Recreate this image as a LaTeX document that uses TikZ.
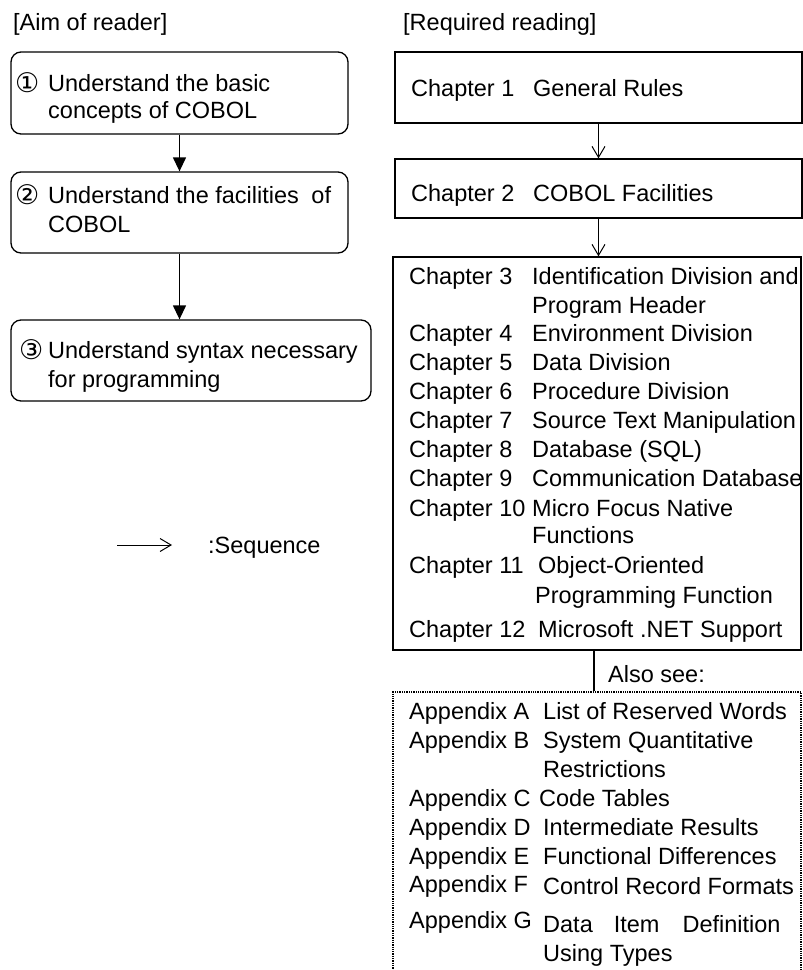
\documentclass[tikz,border=0pt]{standalone}
\usepackage{fontspec}
\setmainfont{Liberation Sans}
\newfontfamily\circfont{DejaVu Sans}
\usetikzlibrary{arrows.meta}
\begin{document}
\begin{tikzpicture}[x=1pt,y=-1pt,
  txt/.style={anchor=base west,inner sep=0pt,font=\fontsize{23.5}{27}\selectfont},
  circ/.style={anchor=base west,inner sep=0pt,font=\circfont\fontsize{27}{30}\selectfont},
  aimbox/.style={draw,rounded corners=10pt,line width=1.3pt,inner sep=0pt},
  chapbox/.style={draw,line width=1.3pt,inner sep=0pt},
  seealso/.style={draw,densely dotted,line width=1.3pt,inner sep=0pt},
  aimarrow/.style={line width=1.3pt,-{Triangle[length=14pt,width=13pt]}},
  readarrow/.style={line width=1pt,-{Straight Barb[length=11pt,width=13pt]}},
  plainline/.style={line width=1.3pt},
]
\useasboundingbox (0,0) rectangle (803,970);

% titles
\node[txt] (aimtitle) at (13,30) {[Aim of reader]};
\node[txt] (reqtitle) at (403,30) {[Required reading]};

% left boxes
\node[aimbox, minimum width=337pt, minimum height=82pt] (aim1) at (179.5,93) {};
\node[aimbox, minimum width=337pt, minimum height=81pt] (aim2) at (179.5,212.5) {};
\node[aimbox, minimum width=360pt, minimum height=81pt] (aim3) at (191,360.5) {};

\node[circ] (c1) at (15,92) {①};
\node[txt] (t1a) at (48,91) {Understand the basic};
\node[txt] (t1b) at (48,118) {concepts of COBOL};
\node[circ] (c2) at (15,204) {②};
\node[txt] (t2a) at (48,203) {Understand the facilities\hspace{6pt} of};
\node[txt] (t2b) at (48,232) {COBOL};
\node[circ] (c3) at (19,359) {③};
\node[txt] (t3a) at (48,358) {Understand syntax necessary};
\node[txt] (t3b) at (48,387) {for programming};

\draw[aimarrow] (aim1.south) -- (aim2.north);
\draw[aimarrow] (aim2.south) -- (aim2.south |- aim3.north);

% legend
\coordinate (seqA) at (117,545);
\coordinate (seqB) at (172,545);
\draw[readarrow] (seqA) -- (seqB);
\node[txt] (seqtext) at (208,553) {:Sequence};

% right boxes
\node[chapbox, minimum width=407pt, minimum height=71pt] (ch1) at (598.5,87.5) {};
\node[chapbox, minimum width=407pt, minimum height=59pt] (ch2) at (598.5,188.5) {};
\node[chapbox, minimum width=408pt, minimum height=393pt] (big) at (597,453.5) {};
\node[seealso, minimum width=408pt, minimum height=298pt] (app) at (597,841) {};

\draw[readarrow] (ch1.south) -- (ch2.north);
\draw[readarrow] (ch2.south) -- (ch2.south |- big.north);
\draw[plainline] ([xshift=-3pt]big.south) -- ([xshift=-3pt]app.north);
\node[txt] (also) at (608,682) {Also see:};

\node[txt] (l1) at (411,96) {Chapter 1};   \node[txt] (r1) at (533,96) {General Rules};
\node[txt] (l2) at (411,201) {Chapter 2};  \node[txt] (r2) at (533,201) {COBOL Facilities};
\node[txt] (l3) at (409,284) {Chapter 3};  \node[txt] (r3) at (532,284) {Identification Division and};
                                            \node[txt] (r3b) at (532,313) {Program Header};
\node[txt] (l4) at (409,341) {Chapter 4};  \node[txt] (r4) at (532,341) {Environment Division};
\node[txt] (l5) at (409,370) {Chapter 5};  \node[txt] (r5) at (532,370) {Data Division};
\node[txt] (l6) at (409,399) {Chapter 6};  \node[txt] (r6) at (532,399) {Procedure Division};
\node[txt] (l7) at (409,428) {Chapter 7};  \node[txt] (r7) at (532,428) {Source Text Manipulation};
\node[txt] (l8) at (409,457) {Chapter 8};  \node[txt] (r8) at (532,457) {Database (SQL)};
\node[txt] (l9) at (409,486) {Chapter 9};  \node[txt] (r9) at (532,486) {Communication Database};
\node[txt] (l10) at (409,516) {Chapter 10}; \node[txt] (r10) at (532,516) {Micro Focus Native};
                                            \node[txt] (r10b) at (532,543) {Functions};
\node[txt] (l11) at (409,573) {Chapter 11}; \node[txt] (r11) at (538,573) {Object-Oriented};
                                            \node[txt] (r11b) at (535,603) {Programming Function};
\node[txt] (l12) at (409,637) {Chapter 12}; \node[txt] (r12) at (538,637) {Microsoft .NET Support};

\node[txt] (aA) at (409,719) {Appendix A}; \node[txt] (bA) at (543,719) {List of Reserved Words};
\node[txt] (aB) at (409,748) {Appendix B}; \node[txt] (bB) at (543,748) {System Quantitative};
                                            \node[txt] (bB2) at (543,777) {Restrictions};
\node[txt] (aC) at (409,806) {Appendix C}; \node[txt] (bC) at (539,806) {Code Tables};
\node[txt] (aD) at (409,835) {Appendix D}; \node[txt] (bD) at (543,835) {Intermediate Results};
\node[txt] (aE) at (409,864) {Appendix E}; \node[txt] (bE) at (543,864) {Functional Differences};
\node[txt] (aF) at (409,892) {Appendix F}; \node[txt] (bF) at (543,894) {Control Record Formats};
\node[txt] (aG) at (409,928) {Appendix G}; \node[txt] (bG) at (543,932) {Data\hspace{21pt}Item\hspace{23pt}Definition};
                                            \node[txt] (bG2) at (543,961) {Using Types};
\end{tikzpicture}
\end{document}
